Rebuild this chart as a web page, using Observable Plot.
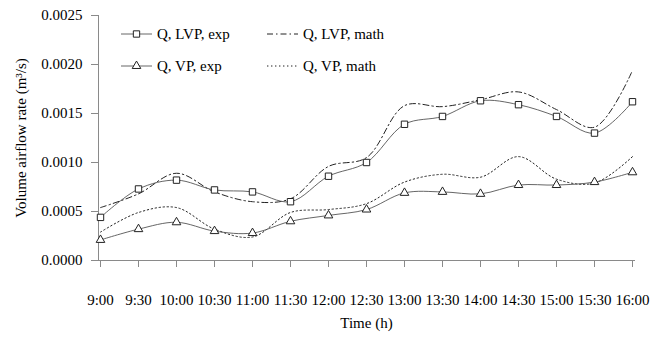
<!DOCTYPE html>
<html>
<head>
<meta charset="utf-8">
<script src="https://cdn.jsdelivr.net/npm/d3@7"></script>
<script src="https://cdn.jsdelivr.net/npm/@observablehq/plot@0.6"></script>
<style>
  html, body { margin: 0; padding: 0; background: #fff; }
  #chart { width: 652px; height: 337px; }
</style>
</head>
<body>
<div id="chart"></div>
<script>
// Half-hourly readings, 9:00 to 16:00
const times = ["9:00", "9:30", "10:00", "10:30", "11:00", "11:30", "12:00", "12:30",
               "13:00", "13:30", "14:00", "14:30", "15:00", "15:30", "16:00"];

// Measured volume airflow (m³/s)
const lvpExp = [0.00044, 0.00073, 0.00082, 0.00072, 0.00070, 0.00060, 0.00086, 0.00100,
                0.00139, 0.00147, 0.00163, 0.00159, 0.00147, 0.00130, 0.00162];
const vpExp  = [0.00021, 0.00032, 0.00039, 0.00030, 0.00028, 0.00040, 0.00046, 0.00052,
                0.00069, 0.00070, 0.00068, 0.00077, 0.00077, 0.00080, 0.00090];

// Modelled volume airflow (m³/s)
const lvpMath = [0.00054, 0.00068, 0.00089, 0.00070, 0.00060, 0.00063, 0.00096, 0.00105,
                 0.00158, 0.00157, 0.00164, 0.00172, 0.00154, 0.00136, 0.00194];
const vpMath  = [0.00029, 0.00049, 0.00054, 0.00032, 0.00024, 0.00049, 0.00052, 0.00058,
                 0.00080, 0.00088, 0.00085, 0.00106, 0.00083, 0.00079, 0.00106];

const yTicks = [0, 0.0005, 0.0010, 0.0015, 0.0020, 0.0025];

const seriesNames = ["Q, LVP, exp", "Q, LVP, math", "Q, VP, exp", "Q, VP, math"];

const rows = (vals) => times.map((t, i) => ({t, v: vals[i]}));
const lvpExpRows = rows(lvpExp), vpExpRows = rows(vpExp);
const lvpMathRows = rows(lvpMath), vpMathRows = rows(vpMath);

const serif = "'Liberation Serif', 'Times New Roman', serif";
const ink = "#222";
const lineInk = "#555";
const axisGrey = "#8a8a8a";
const dashDot = "6,3,1.5,3";
const dotted = "1.4,2.6";

const chart = Plot.plot({
  width: 652,
  height: 337,
  marginLeft: 98,
  marginRight: 18,
  marginTop: 15,
  marginBottom: 77,
  style: {fontFamily: serif, fontSize: "15px", background: "#fff", color: "#000"},
  x: {type: "point", domain: times, padding: 0},
  y: {domain: [0, 0.0025]},
  marks: [
    Plot.frame({anchor: "left", stroke: axisGrey}),
    Plot.frame({anchor: "bottom", stroke: axisGrey}),
    Plot.axisY({ticks: yTicks, tickFormat: d3.format(".4f"), tickSize: 7, tickPadding: 9,
                stroke: axisGrey, fill: "#000", fontSize: 15, label: null}),
    Plot.axisX({tickSize: 7, tickPadding: 27, stroke: axisGrey, fill: "#000", fontSize: 15, label: null}),
    Plot.text(["Volume airflow rate (m³/s)"], {frameAnchor: "left", dx: -77, rotate: -90,
                textAnchor: "middle", fontSize: 15, fill: "#000"}),
    Plot.text(["Time (h)"], {frameAnchor: "bottom", dy: 67, textAnchor: "middle", fontSize: 15, fill: "#000"}),
    Plot.line(lvpMathRows, {x: "t", y: "v", curve: "catmull-rom", stroke: ink, strokeWidth: 1, strokeDasharray: dashDot}),
    Plot.line(vpMathRows, {x: "t", y: "v", curve: "catmull-rom", stroke: ink, strokeWidth: 1, strokeDasharray: dotted}),
    Plot.line(lvpExpRows, {x: "t", y: "v", curve: "catmull-rom", stroke: lineInk, strokeWidth: 0.9}),
    Plot.line(vpExpRows, {x: "t", y: "v", curve: "catmull-rom", stroke: lineInk, strokeWidth: 0.9}),
    Plot.dot(lvpExpRows, {x: "t", y: "v", symbol: "square", r: 3.6, stroke: ink, fill: "#fff", strokeWidth: 1}),
    Plot.dot(vpExpRows, {x: "t", y: "v", symbol: "triangle", r: 3.2, stroke: ink, fill: "#fff", strokeWidth: 1})
  ]
});

document.getElementById("chart").appendChild(chart);

// Legend inside the plot area: two columns, two rows
const svg = d3.select(chart);
const lg = svg.append("g")
  .attr("font-family", serif)
  .attr("font-size", 15)
  .attr("text-anchor", "start");
const entries = [
  {name: seriesNames[0], col: 0, row: 0, dash: null, symbol: d3.symbolSquare, size: 40},
  {name: seriesNames[1], col: 1, row: 0, dash: dashDot, symbol: null},
  {name: seriesNames[2], col: 0, row: 1, dash: null, symbol: d3.symbolTriangle, size: 32},
  {name: seriesNames[3], col: 1, row: 1, dash: dotted, symbol: null}
];
const colX = [121, 267], rowY = [34, 66], sampleLen = 31;
for (const e of entries) {
  const x0 = colX[e.col], y = rowY[e.row];
  lg.append("line")
    .attr("x1", x0).attr("x2", x0 + sampleLen).attr("y1", y).attr("y2", y)
    .attr("stroke", e.symbol ? lineInk : ink).attr("stroke-width", e.symbol ? 0.9 : 1)
    .attr("stroke-dasharray", e.dash);
  if (e.symbol) {
    lg.append("path")
      .attr("d", d3.symbol(e.symbol, e.size)())
      .attr("transform", `translate(${x0 + sampleLen / 2},${y})`)
      .attr("fill", "#fff").attr("stroke", ink).attr("stroke-width", 1);
  }
  lg.append("text")
    .attr("x", x0 + sampleLen + 5).attr("y", y)
    .attr("dy", "0.35em")
    .attr("fill", "#000")
    .text(e.name);
}
</script>
</body>
</html>
